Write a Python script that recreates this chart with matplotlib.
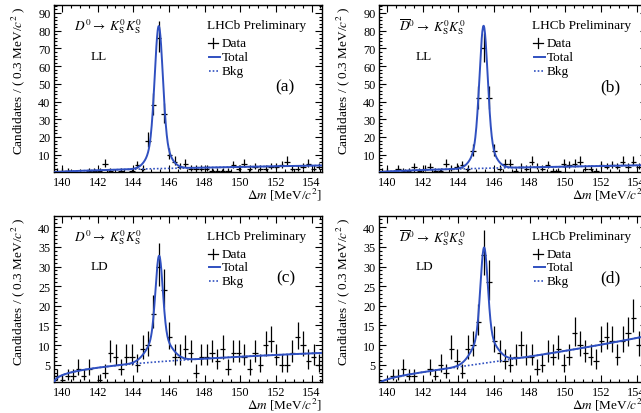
import numpy as np
import matplotlib.pyplot as plt
from matplotlib.ticker import MultipleLocator

plt.rcParams['font.family'] = ['Liberation Serif', 'DejaVu Serif']
plt.rcParams['mathtext.fontset'] = 'stix'

# 50 bins of 0.3 MeV starting at the pion mass
dm_lo, dm_hi = 139.57, 154.57
bin_width = 0.3
centers = dm_lo + bin_width * (np.arange(50) + 0.5)

# candidates per bin
counts_a = [1, 1, 1, 0, 0, 0, 1, 1, 1, 5, 1, 0, 1, 0, 1, 4, 2, 18, 38, 76,
            33, 10, 6, 3, 5, 2, 2, 2, 2, 1, 1, 1, 1, 4, 2, 5, 2, 3, 2, 2,
            3, 3, 4, 6, 2, 2, 3, 5, 2, 3]
counts_b = [1, 1, 0, 2, 1, 1, 3, 1, 2, 3, 1, 1, 5, 2, 3, 4, 2, 12, 42, 70,
            42, 12, 2, 5, 5, 1, 3, 2, 6, 3, 2, 4, 1, 1, 5, 4, 5, 6, 2, 2,
            1, 4, 3, 4, 3, 6, 3, 6, 3, 2]
counts_c = [2, 1, 2, 2, 4, 2, 4, 0, 1, 3, 8, 7, 4, 7, 7, 5, 9, 10, 18, 30,
            24, 12, 7, 7, 9, 8, 3, 7, 7, 8, 6, 9, 4, 8, 8, 7, 4, 8, 5, 10,
            11, 7, 5, 5, 8, 12, 10, 6, 7, 5]
counts_d = [0, 0, 2, 2, 4, 2, 2, 0, 0, 4, 2, 5, 3, 9, 6, 3, 9, 10, 16, 33,
            26, 11, 8, 6, 5, 7, 10, 7, 7, 4, 5, 8, 7, 9, 5, 7, 13, 10, 8, 7,
            6, 11, 12, 11, 7, 11, 13, 17, 10, 12]

# fitted signal: mean, height, core width, tail width, tail fraction
sig_a = (145.43, 80.5, 0.22, 0.5, 0.2)
sig_b = (145.42, 80.5, 0.22, 0.5, 0.2)
sig_c = (145.45, 27.0, 0.20, 0.6, 0.25)
sig_d = (145.45, 29.5, 0.20, 0.6, 0.25)
# fitted background: a*dx^p + q*dx^2, dx = dm - m(pi)
bkg_a = (0.69, 0.64, 0.0)
bkg_b = (0.80, 0.60, 0.0)
bkg_c = (3.10, 0.35, 0.0)
bkg_d = (1.90, 0.50, 0.022)

decay_D = r'$D^0 \rightarrow\ K^0_\mathrm{S}K^0_\mathrm{S}$'
decay_Dbar = r'$\overline{D}^0 \rightarrow\ K^0_\mathrm{S}K^0_\mathrm{S}$'

blue = '#3050c0'


def bkg_shape(x, a, p, q):
    dx = x - dm_lo
    return a * dx**p + q * dx**2


def sig_shape(x, mu, h, s1, s2, w):
    d = x - mu
    return h * ((1 - w) * np.exp(-0.5 * (d / s1)**2) + w * np.exp(-0.5 * (d / s2)**2))


fig = plt.figure(figsize=(6.41, 4.14), dpi=100)

panels = [
    # rect, counts, sig, bkg, decay, cat, tag, ylim, major, minor, tag_y
    ([0.0847, 0.5829, 0.4172, 0.4034], counts_a, sig_a, bkg_a, decay_D, 'LL', '(a)', (0.4, 94.7), 10, 2, 0.513),
    ([0.5917, 0.5829, 0.4172, 0.4034], counts_b, sig_b, bkg_b, decay_Dbar, 'LL', '(b)', (0.4, 94.7), 10, 2, 0.513),
    ([0.0847, 0.0756, 0.4172, 0.4010], counts_c, sig_c, bkg_c, decay_D, 'LD', '(c)', (0.67, 42.95), 5, 1, 0.631),
    ([0.5917, 0.0756, 0.4172, 0.4010], counts_d, sig_d, bkg_d, decay_Dbar, 'LD', '(d)', (0.67, 42.95), 5, 1, 0.631),
]

xx = np.linspace(dm_lo, dm_hi, 800)

for rect, counts, sig, bkg, decay, cat, tag, ylim, major, minor, tag_y in panels:
    ax = fig.add_axes(rect)
    n = np.array(counts, dtype=float)
    m = n > 0
    err_lo = np.sqrt(n + 0.25) - 0.5
    err_hi = np.sqrt(n + 0.25) + 0.5
    ax.errorbar(centers[m], n[m], xerr=bin_width / 2, yerr=[err_lo[m], err_hi[m]],
                fmt='none', ecolor='black', elinewidth=0.9, capsize=0, zorder=2)

    b = bkg_shape(xx, *bkg)
    ax.plot(xx, b, color=blue, lw=1.2, ls=(0, (1, 1.2)), zorder=3)
    ax.plot(xx, b + sig_shape(xx, *sig), color=blue, lw=1.4, zorder=4)

    ax.set_xlim(dm_lo, dm_hi)
    ax.set_ylim(*ylim)
    ax.xaxis.set_major_locator(MultipleLocator(2))
    ax.xaxis.set_minor_locator(MultipleLocator(0.5))
    ax.yaxis.set_major_locator(MultipleLocator(major))
    ax.yaxis.set_minor_locator(MultipleLocator(minor))
    ax.tick_params(which='both', direction='in', top=True, right=True, labelsize=8.8, width=0.8)
    ax.tick_params(which='major', length=5, pad=2.8)
    ax.tick_params(which='minor', length=2.5)
    for sp in ax.spines.values():
        sp.set_linewidth(1.0)

    ax.set_xlabel(r'$\Delta m$ [MeV/$c^2$]', loc='right', fontsize=9.5, labelpad=-1.5)
    ax.set_ylabel(r'Candidates / ( 0.3 MeV/$c^2$ )', loc='top', fontsize=9.5, labelpad=8)

    ax.text(0.075, 0.874, decay, transform=ax.transAxes, fontsize=9.5, va='center')
    ax.text(0.168, 0.695, cat, transform=ax.transAxes, fontsize=9.5, ha='center', va='center')
    ax.text(0.571, 0.88, 'LHCb Preliminary', transform=ax.transAxes, fontsize=9.5, va='center')
    ax.text(0.864, tag_y, tag, transform=ax.transAxes, fontsize=12.5, ha='center', va='center')

    # legend drawn by hand
    ax.plot([0.576, 0.613], [0.772, 0.772], color='black', lw=0.9, transform=ax.transAxes)
    ax.plot([0.594, 0.594], [0.742, 0.802], color='black', lw=0.9, transform=ax.transAxes)
    ax.plot([0.58, 0.62], [0.689, 0.689], color=blue, lw=1.4, transform=ax.transAxes)
    ax.plot([0.58, 0.62], [0.605, 0.605], color=blue, lw=1.2, ls=(0, (1, 1.2)), transform=ax.transAxes)
    for yy, lab in [(0.772, 'Data'), (0.689, 'Total'), (0.605, 'Bkg')]:
        ax.text(0.626, yy, lab, transform=ax.transAxes, fontsize=9.5, va='center')

fig.savefig('out.png', dpi=100)
